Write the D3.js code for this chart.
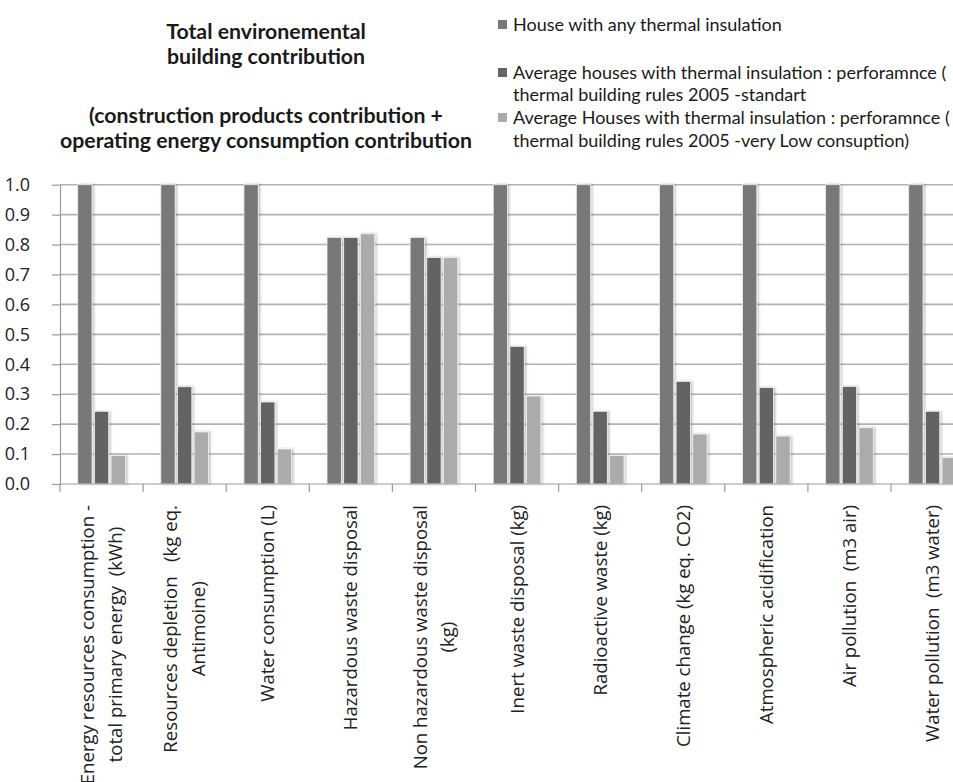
<!DOCTYPE html>
<html>
<head>
<meta charset="utf-8">
<script src="https://cdn.jsdelivr.net/npm/d3@7"></script>
<style>
  html, body { margin: 0; padding: 0; background: #ffffff; }
  svg { display: block; }
  text { white-space: pre; }
</style>
</head>
<body>
<svg id="chart" width="953" height="782"></svg>
<script>
// ---------------- data ----------------
const categories = [
  "Energy resources consumption - total primary energy (kWh)",
  "Resources depletion (kg eq. Antimoine)",
  "Water consumption (L)",
  "Hazardous waste disposal",
  "Non hazardous waste disposal (kg)",
  "Inert waste disposal (kg)",
  "Radioactive waste (kg)",
  "Climate change (kg eq. CO2)",
  "Atmospheric acidification",
  "Air pollution (m3 air)",
  "Water pollution (m3 water)"
];
const categoryLabelLines = [
  ["Energy resources consumption -", "total primary energy  (kWh)"],
  ["Resources depletion   (kg eq.", "Antimoine)"],
  ["Water consumption (L)"],
  ["Hazardous waste disposal"],
  ["Non hazardous waste disposal", "(kg)"],
  ["Inert waste disposal (kg)"],
  ["Radioactive waste (kg)"],
  ["Climate change (kg eq. CO2)"],
  ["Atmospheric acidification"],
  ["Air pollution  (m3 air)"],
  ["Water pollution  (m3 water)"]
];
const seriesNames = [
  "House with any thermal insulation",
  "Average houses with thermal insulation : perforamnce ( thermal building rules 2005 -standart",
  "Average Houses with thermal insulation : perforamnce ( thermal building rules 2005 -very Low consuption)"
];
const legendLines = [
  ["House with any thermal insulation"],
  ["Average houses with thermal insulation : perforamnce (", "thermal building rules 2005 -standart"],
  ["Average Houses with thermal insulation : perforamnce (", "thermal building rules 2005 -very Low consuption)"]
];
const seriesNoInsulation = [1.0, 1.0, 1.0, 0.824, 0.824, 1.0, 1.0, 1.0, 1.0, 1.0, 1.0];
const seriesStandard     = [0.243, 0.325, 0.274, 0.824, 0.757, 0.46, 0.243, 0.343, 0.322, 0.326, 0.243];
const seriesVeryLow      = [0.095, 0.174, 0.117, 0.836, 0.757, 0.294, 0.095, 0.167, 0.16, 0.188, 0.088];
const yTicks = [0, 0.1, 0.2, 0.3, 0.4, 0.5, 0.6, 0.7, 0.8, 0.9, 1.0];
const titleLines = [
  "Total environemental",
  "building contribution",
  "",
  "(construction products contribution +",
  "operating energy consumption contribution"
];

// ---------------- styles ----------------
const colors = ["#787878", "#646464", "#ababab"];
const axisFont = "'Open Sans', 'DejaVu Sans', sans-serif";
const titleFont = "Lato, 'Open Sans', sans-serif";

const svg = d3.select("#chart");
svg.append("rect").attr("width", 953).attr("height", 782).attr("fill", "#fff");

const defs = svg.append("defs");
const f = defs.append("filter").attr("id", "shadow").attr("x", "-30%").attr("y", "-5%").attr("width", "160%").attr("height", "110%");
f.append("feDropShadow").attr("dx", 1.5).attr("dy", 0).attr("stdDeviation", 1.2)
  .attr("flood-color", "#000").attr("flood-opacity", 0.25);

// ---------------- scales ----------------
const plotLeft = 60;
const catWidth = 83.1;
const x0 = d3.scaleBand().domain(categories)
  .range([plotLeft, plotLeft + catWidth * categories.length]).paddingInner(0).paddingOuter(0);
const groupWidth = 50;
const x1 = d3.scaleBand().domain(seriesNames).range([0, groupWidth]).paddingInner(0.14).paddingOuter(0.07);
const y = d3.scaleLinear().domain([0, 1]).range([484, 184.7]);

const data = categories.map((c, i) => ({
  cat: c,
  vals: [seriesNoInsulation[i], seriesStandard[i], seriesVeryLow[i]]
}));

// ---------------- gridlines ----------------
svg.append("g")
  .selectAll("line").data(yTicks.filter(t => t > 0)).join("line")
  .attr("x1", plotLeft).attr("x2", 953)
  .attr("y1", d => y(d)).attr("y2", d => y(d))
  .attr("stroke", "#b2b2b2").attr("stroke-width", 1.6);

// ---------------- y axis ----------------
const yAxis = d3.axisLeft(y).tickValues(yTicks).tickFormat(d3.format(".1f")).tickSizeInner(8).tickSizeOuter(0).tickPadding(22);
const gy = svg.append("g").attr("transform", `translate(${plotLeft},0)`).call(yAxis);
gy.select(".domain").attr("stroke", "#9a9a9a").attr("stroke-width", 1.2);
gy.selectAll(".tick line").attr("stroke", "#9a9a9a").attr("stroke-width", 1.2);
gy.selectAll(".tick text").attr("font-family", axisFont).attr("font-size", 18).attr("fill", "#222")
  .attr("text-anchor", "end");

// ---------------- bars ----------------
const groups = svg.append("g").selectAll("g").data(data).join("g")
  .attr("transform", d => `translate(${x0(d.cat) + (x0.bandwidth() - groupWidth) / 2},0)`);
groups.selectAll("rect").data(d => d.vals.map((v, k) => ({ v, k }))).join("rect")
  .attr("x", d => x1(seriesNames[d.k]))
  .attr("width", x1.bandwidth())
  .attr("y", d => y(d.v))
  .attr("height", d => y(0) - y(d.v))
  .attr("fill", d => colors[d.k])
  .attr("stroke", "#f2f2f2").attr("stroke-width", 0.8)
  .attr("filter", "url(#shadow)");

// ---------------- x axis ----------------
const xAxisLine = svg.append("g");
xAxisLine.append("line").attr("x1", plotLeft).attr("x2", 953).attr("y1", y(0)).attr("y2", y(0))
  .attr("stroke", "#9a9a9a").attr("stroke-width", 1.2);
xAxisLine.selectAll("line.tk").data(categories.concat(["_end"])).join("line").attr("class", "tk")
  .attr("x1", (d, i) => plotLeft + i * x0.bandwidth())
  .attr("x2", (d, i) => plotLeft + i * x0.bandwidth())
  .attr("y1", y(0)).attr("y2", y(0) + 8)
  .attr("stroke", "#9a9a9a").attr("stroke-width", 1.2);

// category labels (rotated, Excel-like: block end at fixed top, lines centred)
const labelTop = 505;
const lineGap = 27.5;
const fs = 18.6;
categories.forEach((c, i) => {
  const lines = categoryLabelLines[i];
  const cx = x0(c) + x0.bandwidth() / 2;
  const g = svg.append("g");
  const texts = lines.map((ln, j) => g.append("text").text(ln)
    .attr("font-family", axisFont).attr("font-size", fs).attr("fill", "#222"));
  const widths = texts.map(t => t.node().getComputedTextLength());
  const W = d3.max(widths);
  const cy = labelTop + W / 2;
  texts.forEach((t, j) => {
    const off = (j - (lines.length - 1) / 2) * lineGap;
    t.attr("text-anchor", "middle")
     .attr("transform", `translate(${cx + off},${cy}) rotate(-90)`)
     .attr("dy", "0.35em");
  });
});

// ---------------- title ----------------
const titleBaselines = [39, 64, 0, 123, 148];
titleLines.forEach((t, i) => {
  if (!t) return;
  svg.append("text").text(t)
    .attr("x", 266).attr("y", titleBaselines[i])
    .attr("text-anchor", "middle")
    .attr("font-family", titleFont).attr("font-weight", "bold").attr("font-size", 21.3)
    .attr("fill", "#1a1a1a");
});

// ---------------- legend ----------------
const legendBaselines = [[31], [79, 101], [124, 147]];
legendLines.forEach((lines, k) => {
  const g = svg.append("g");
  g.append("rect").attr("x", 498).attr("y", legendBaselines[k][0] - 11).attr("width", 9).attr("height", 9)
    .attr("fill", colors[k]);
  lines.forEach((ln, j) => {
    g.append("text").text(ln).attr("x", 513).attr("y", legendBaselines[k][j])
      .attr("font-family", titleFont).attr("font-size", 18).attr("fill", "#1a1a1a");
  });
});
</script>
</body>
</html>
